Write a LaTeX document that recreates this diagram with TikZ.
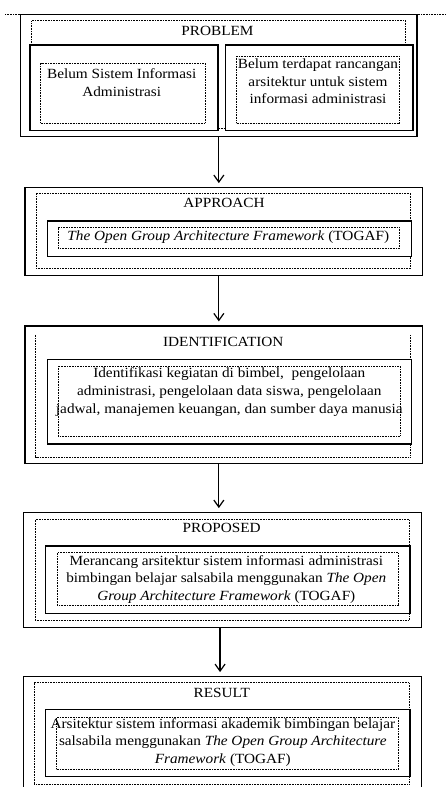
\documentclass[tikz,border=0pt]{standalone}
\usepackage{fontspec}
\setmainfont[FakeStretch=1.09]{Liberation Serif}
\usetikzlibrary{arrows.meta,fit}

\begin{document}
\begin{tikzpicture}[x=1pt, y=-1pt,
  framebox/.style={draw, line width=1.2pt, fill=white, inner sep=0pt},
  dotline/.style={line width=0.8pt, dash pattern=on 0.8pt off 0.8pt},
  dotbox/.style={draw, dotline, inner sep=0pt},
  txt/.style={align=center, font=\fontsize{14}{17.6}\selectfont, inner sep=0pt},
  arr/.style={line width=1.2pt, shorten >=4pt, -{Straight Barb[length=7pt,width=10pt]}}]
\useasboundingbox (0,0) rectangle (446,787);
\draw[dotline] (5,14) -- (446,14);
% problem
\node[framebox, fit={(20.7,14.7) (417,136.7)}] (problem) {};
\node[dotbox, fit={(31.7,20.7) (405.7,128)}] (problemdots) {};
\node[txt] (problemtitle) at (217.5,30.5) {PROBLEM};
\node[framebox, fit={(30,45) (218,130.7)}] (probleml) {};
\node[dotbox, fit={(40.7,63) (205,123.3)}] (problemldots) {};
\node[txt] (problemltext) at (121.7,82.5) {Belum Sistem Informasi\\Administrasi};
\node[framebox, fit={(225.7,45) (413,130.7)}] (problemr) {};
\node[dotbox, fit={(236.7,56) (399,123.3)}] (problemrdots) {};
\node[txt] (problemrtext) at (318,81.5) {Belum terdapat rancangan\\arsitektur untuk sistem\\informasi administrasi};
% approach
\node[framebox, fit={(25,187.7) (422.7,275.7)}] (approach) {};
\node[dotbox, fit={(36,193.3) (410.7,268.3)}] (approachdots) {};
\node[txt] (approachtitle) at (224,202.7) {APPROACH};
\node[framebox, fit={(47.3,221) (411.7,256.7)}] (approachin) {};
\node[dotbox, fit={(58.3,227.7) (399.3,248.3)}] (approachindots) {};
\node[txt] (approachtext) at (228.3,236.7) {\textit{The Open Group Architecture Framework} (TOGAF)};
% identification
\node[framebox, fit={(25,326) (422.7,463.3)}] (identification) {};
\node[inner sep=0pt, fit={(36,335) (410,456.7)}] (identificationdots) {};
\draw[dotline] (identificationdots.north west) -- (identificationdots.south west)
  -- (identificationdots.south east) -- (identificationdots.north east);
\node[txt] (identificationtitle) at (223.3,342.3) {IDENTIFICATION};
\node[framebox, fit={(47.3,359.3) (411.7,444)}] (identificationin) {};
\node[dotbox, fit={(58.3,366) (400,436)}] (identificationindots) {};
\node[txt] (identificationtext) at (229.3,392) {Identifikasi kegiatan di bimbel,\ \ pengelolaan\\administrasi, pengelolaan data siswa, pengelolaan\\jadwal, manajemen keuangan, dan sumber daya manusia};
% proposed
\node[framebox, fit={(23.3,512.7) (421.7,627.3)}] (proposed) {};
\node[dotbox, fit={(35,519.3) (409.3,620)}] (proposeddots) {};
\node[txt] (proposedtitle) at (221.7,528.3) {PROPOSED};
\node[framebox, fit={(45.7,546) (410,613.3)}] (proposedin) {};
\node[dotbox, fit={(57.3,552.7) (398.3,605)}] (proposedindots) {};
\node[txt] (proposedtext) at (226.3,579.5) {Merancang arsitektur sistem informasi administrasi\\bimbingan belajar salsabila menggunakan \textit{The Open}\\\textit{Group Architecture Framework} (TOGAF)};
% result
\node[framebox, fit={(23.3,676.7) (421.7,800)}] (result) {};
\node[dotbox, fit={(34.3,682.7) (409.3,784)}] (resultdots) {};
\node[txt] (resulttitle) at (221.7,692.7) {RESULT};
\node[framebox, fit={(45.7,709.3) (410,776.7)}] (resultin) {};
\node[dotbox, fit={(56.7,717.3) (398.3,769.3)}] (resultindots) {};
\node[txt] (resulttext) at (222.8,742.5) {Arsitektur sistem informasi akademik bimbingan belajar\\salsabila menggunakan \textit{The Open Group Architecture}\\\textit{Framework} (TOGAF)};
% arrows
\draw[arr] (problem.south) -- (problem.south |- approach.north);
\draw[arr] (problem.south |- approach.south) -- (problem.south |- identification.north);
\draw[arr] (problem.south |- identification.south) -- (problem.south |- proposed.north);
\draw[arr] ([xshift=1.2pt]problem.south |- proposed.south) -- ([xshift=1.2pt]problem.south |- result.north);
\end{tikzpicture}
\end{document}
